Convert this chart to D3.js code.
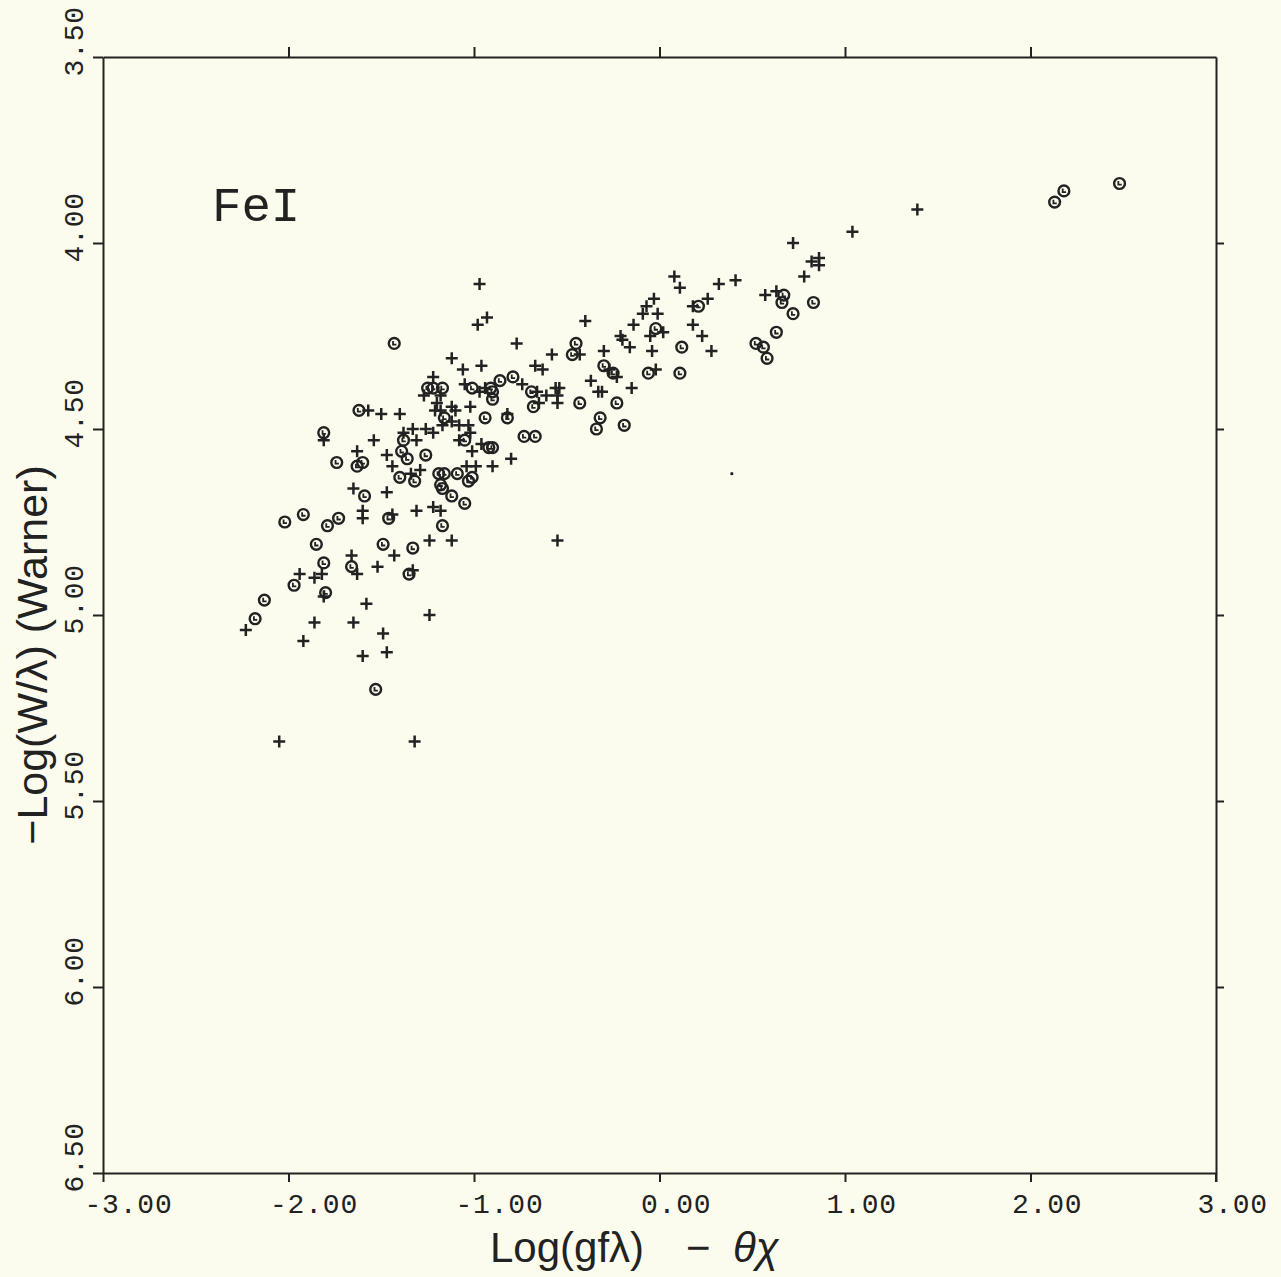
<!DOCTYPE html>
<html>
<head>
<meta charset="utf-8">
<script src="https://cdn.jsdelivr.net/npm/d3@7"></script>
<style>
  body { margin: 0; background: #fcfcee; }
  svg { display: block; }
</style>
</head>
<body>
<svg id="chart"></svg>
<script>
// log(gf lambda) - theta chi  vs  -log(W/lambda), Fe I lines
const plusPoints = [
  [-2.23, 5.04], [-2.05, 5.34], [-1.94, 4.89], [-1.92, 5.07], [-1.86, 5.02],
  [-1.86, 4.90], [-1.82, 4.89], [-1.81, 4.53], [-1.81, 4.95], [-1.66, 4.84],
  [-1.65, 4.66], [-1.65, 5.02], [-1.63, 4.89], [-1.63, 4.56], [-1.60, 5.11],
  [-1.60, 4.72], [-1.60, 4.74], [-1.58, 4.97], [-1.57, 4.45], [-1.54, 4.53],
  [-1.52, 4.87], [-1.50, 4.46], [-1.49, 5.05], [-1.47, 5.10], [-1.47, 4.67],
  [-1.47, 4.57], [-1.44, 4.60], [-1.44, 4.73], [-1.43, 4.84], [-1.40, 4.46],
  [-1.38, 4.51], [-1.34, 4.62], [-1.33, 4.50], [-1.33, 4.88], [-1.32, 5.34],
  [-1.31, 4.53], [-1.31, 4.72], [-1.29, 4.61], [-1.27, 4.41], [-1.26, 4.50],
  [-1.24, 4.80], [-1.24, 5.00], [-1.22, 4.51], [-1.22, 4.36], [-1.20, 4.43],
  [-1.21, 4.45], [-1.18, 4.45], [-1.18, 4.41], [-1.17, 4.49], [-1.12, 4.44],
  [-1.12, 4.31], [-1.12, 4.48], [-1.10, 4.45], [-1.08, 4.49], [-1.08, 4.53],
  [-1.06, 4.34], [-1.05, 4.38], [-1.03, 4.49], [-1.02, 4.44], [-1.02, 4.51],
  [-1.01, 4.56], [-1.04, 4.60], [-0.99, 4.60], [-0.98, 4.22], [-0.97, 4.40],
  [-0.97, 4.11], [-0.96, 4.54], [-0.96, 4.33], [-0.94, 4.39], [-0.93, 4.20],
  [-0.90, 4.60], [-0.82, 4.46], [-0.80, 4.58], [-0.77, 4.27], [-0.74, 4.38],
  [-0.67, 4.33], [-0.66, 4.40], [-0.65, 4.43], [-0.63, 4.34], [-0.61, 4.41],
  [-0.58, 4.30], [-0.56, 4.39], [-0.54, 4.39], [-0.55, 4.41], [-0.55, 4.43],
  [-0.43, 4.30], [-0.40, 4.21], [-0.37, 4.37], [-0.30, 4.29], [-0.33, 4.40],
  [-0.31, 4.40], [-0.27, 4.34], [-0.23, 4.36], [-0.21, 4.25], [-0.20, 4.26],
  [-0.16, 4.28], [-0.15, 4.39], [-0.14, 4.22], [-0.09, 4.19], [-0.07, 4.17],
  [-0.05, 4.25], [-0.04, 4.29], [-0.03, 4.15], [-0.02, 4.34], [-0.01, 4.19],
  [0.02, 4.24], [0.08, 4.09], [0.11, 4.12], [0.18, 4.22], [0.18, 4.17],
  [0.23, 4.25], [0.26, 4.15], [0.28, 4.29], [0.32, 4.11], [0.41, 4.10],
  [0.57, 4.14], [0.63, 4.13], [0.72, 4.00], [0.78, 4.09], [0.82, 4.05],
  [0.86, 4.04], [0.86, 4.06], [1.04, 3.97], [1.39, 3.91], [-1.12, 4.80],
  [-0.55, 4.80], [-1.22, 4.71], [-1.18, 4.72]
];

const circlePoints = [
  [-2.18, 5.01], [-2.13, 4.96], [-2.02, 4.75], [-1.97, 4.92], [-1.92, 4.73],
  [-1.85, 4.81], [-1.81, 4.51], [-1.81, 4.86], [-1.80, 4.94], [-1.79, 4.76],
  [-1.74, 4.59], [-1.73, 4.74], [-1.66, 4.87], [-1.63, 4.60], [-1.62, 4.45],
  [-1.60, 4.59], [-1.59, 4.68], [-1.53, 5.20], [-1.49, 4.81], [-1.46, 4.74],
  [-1.43, 4.27], [-1.40, 4.63], [-1.39, 4.56], [-1.38, 4.53], [-1.36, 4.58],
  [-1.35, 4.89], [-1.33, 4.82], [-1.32, 4.64], [-1.26, 4.57], [-1.25, 4.39],
  [-1.22, 4.39], [-1.17, 4.39], [-1.19, 4.62], [-1.16, 4.62], [-1.18, 4.65],
  [-1.17, 4.66], [-1.16, 4.47], [-1.17, 4.76], [-1.12, 4.68], [-1.09, 4.62],
  [-1.05, 4.53], [-1.05, 4.70], [-1.03, 4.64], [-1.01, 4.63], [-1.01, 4.39],
  [-0.94, 4.47], [-0.92, 4.55], [-0.90, 4.55], [-0.91, 4.39], [-0.90, 4.40],
  [-0.90, 4.42], [-0.86, 4.37], [-0.82, 4.47], [-0.79, 4.36], [-0.73, 4.52],
  [-0.69, 4.40], [-0.68, 4.44], [-0.67, 4.52], [-0.47, 4.30], [-0.45, 4.27],
  [-0.43, 4.43], [-0.34, 4.50], [-0.32, 4.47], [-0.30, 4.33], [-0.25, 4.35],
  [-0.23, 4.43], [-0.19, 4.49], [-0.06, 4.35], [-0.02, 4.23], [0.11, 4.35],
  [0.12, 4.28], [0.21, 4.17], [0.52, 4.27], [0.56, 4.28], [0.58, 4.31],
  [0.63, 4.24], [0.66, 4.16], [0.67, 4.14], [0.72, 4.19], [0.83, 4.16],
  [2.13, 3.89], [2.18, 3.86], [2.48, 3.84]
];

const dotPoints = [[0.39, 4.62]];

const xTicks = [-3, -2, -1, 0, 1, 2, 3];
const yTicks = [3.5, 4.0, 4.5, 5.0, 5.5, 6.0, 6.5];
const xTickLabels = ["-3.00", "-2.00", "-1.00", "0.00", "1.00", "2.00", "3.00"];
const yTickLabels = ["3.50", "4.00", "4.50", "5.00", "5.50", "6.00", "6.50"];

const width = 1281, height = 1277;
const margin = { top: 57, right: 65, bottom: 104, left: 103 };
const ink = "#222";

const svg = d3.select("#chart").attr("width", width).attr("height", height);
svg.append("rect").attr("width", width).attr("height", height).attr("fill", "#fcfcee");

const x = d3.scaleLinear().domain([-3, 3]).range([margin.left, width - margin.right]);
const y = d3.scaleLinear().domain([3.5, 6.5]).range([margin.top, height - margin.bottom]);

const tickFont = "'Liberation Mono', 'DejaVu Sans Mono', monospace";

// bottom axis with labels starting a little left of each tick
const gx = svg.append("g")
  .attr("transform", `translate(0,${y(6.5)})`)
  .call(d3.axisBottom(x).tickValues(xTicks).tickSize(9).tickSizeOuter(0)
    .tickFormat((d, i) => xTickLabels[i]));
gx.selectAll("text")
  .attr("text-anchor", "start")
  .attr("x", -19).attr("y", 40).attr("dy", null)
  .attr("font-family", tickFont).attr("font-size", 28)
  .attr("letter-spacing", 0.8).attr("fill", ink);

// left axis, labels turned to read upwards
const gy = svg.append("g")
  .attr("transform", `translate(${x(-3)},0)`)
  .call(d3.axisLeft(y).tickValues(yTicks).tickSize(10).tickSizeOuter(0)
    .tickFormat((d, i) => yTickLabels[i]));
gy.selectAll("text")
  .attr("transform", "rotate(-90)")
  .attr("text-anchor", "start")
  .attr("x", -19).attr("y", -20).attr("dy", null)
  .attr("font-family", tickFont).attr("font-size", 28)
  .attr("letter-spacing", 0.8).attr("fill", ink);

svg.append("g")
  .attr("transform", `translate(0,${y(3.5)})`)
  .call(d3.axisTop(x).tickValues(xTicks.slice(1, -1)).tickSize(10).tickSizeOuter(0).tickFormat(""));

svg.append("g")
  .attr("transform", `translate(${x(3)},0)`)
  .call(d3.axisRight(y).tickValues(yTicks.slice(1, -1)).tickSize(8).tickSizeOuter(0).tickFormat(""));

// little extra stub below the right end of the frame
svg.append("line")
  .attr("x1", x(3)).attr("x2", x(3))
  .attr("y1", y(6.5)).attr("y2", y(6.5) + 9);

svg.selectAll(".domain, .tick line, line")
  .attr("stroke", ink).attr("stroke-width", 2);

// axis titles
svg.append("text")
  .attr("x", 490).attr("y", 1262)
  .attr("font-family", "'Liberation Sans', Arial, sans-serif")
  .attr("font-size", 42).attr("fill", ink)
  .call(t => {
    t.append("tspan").text("Log(gfλ)");
    t.append("tspan").attr("x", 686).text("−");
    t.append("tspan").attr("x", 733).attr("font-style", "italic").text("θχ");
  });

svg.append("text")
  .attr("transform", "translate(47,655) rotate(-90)")
  .attr("text-anchor", "middle")
  .attr("font-family", "'Liberation Sans', Arial, sans-serif")
  .attr("font-size", 43).attr("fill", ink)
  .text("−Log(W/λ) (Warner)");

svg.append("text")
  .attr("x", 212).attr("y", 221)
  .attr("font-family", tickFont)
  .attr("font-size", 49).attr("fill", ink)
  .text("FeI");

// markers
const marks = svg.append("g").attr("stroke", ink).attr("fill", "none");

marks.selectAll(".plus")
  .data(plusPoints)
  .enter().append("path")
  .attr("class", "plus")
  .attr("transform", d => `translate(${x(d[0])},${y(d[1])})`)
  .attr("d", "M-6,0H6M0,-6V6")
  .attr("stroke-width", 2.5);

const rings = marks.selectAll(".ring")
  .data(circlePoints)
  .enter().append("g")
  .attr("class", "ring")
  .attr("transform", d => `translate(${x(d[0])},${y(d[1])})`);
rings.append("circle").attr("r", 5.4).attr("stroke-width", 2.4);
rings.append("path").attr("d", "M-1.2,-2.4V1.2H2.2").attr("stroke-width", 1.8);

svg.selectAll(".dot")
  .data(dotPoints)
  .enter().append("circle")
  .attr("class", "dot")
  .attr("cx", d => x(d[0])).attr("cy", d => y(d[1]))
  .attr("r", 1.6).attr("fill", ink);
</script>
</body>
</html>
